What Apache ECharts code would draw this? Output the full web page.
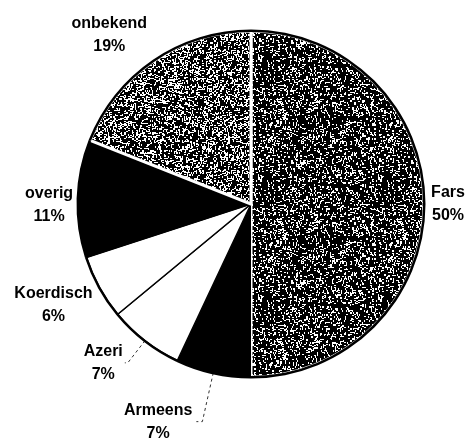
<!DOCTYPE html>
<html><head><meta charset="utf-8">
<script src="https://cdn.jsdelivr.net/npm/echarts@6/dist/echarts.min.js"></script>
<style>html,body{margin:0;padding:0;background:#fff}#c{width:469px;height:439px}</style>
</head><body><div id="c"></div>
<script>
// ---- data ----
const categories = ['Fars', 'Armeens', 'Azeri', 'Koerdisch', 'overig', 'onbekend'];
const values = [50, 7, 7, 6, 11, 19];

// ---- styles (per slice, same order) ----
const CX = 251, CY = 204, R = 173;
const lineLen = [9, 50, 28, 37, 6, 31];
const lineLen2 = [10, 6, 3, 8.5, 18, 22];
const labelDist = [5, 4, 2, 5, 5, 5];
const showLine = [false, true, true, false, false, false];
const centerLabel = [true, false, false, true, true, true];
const labelPadTop = [0, 0, 0, 0, 14, 0];
const borderColors = ['#fff', '#000', '#000', '#000', '#000', '#fff'];
const borderWidths = [3, 0, 1.5, 1.5, 1, 3];

function hash(x, y, seed) {
  let h = (Math.imul(x, 374761393) + Math.imul(y, 668265263) + Math.imul(seed, 1442695041)) | 0;
  h = Math.imul(h ^ (h >>> 13), 1274126177); h ^= h >>> 16;
  return (h >>> 0) / 4294967296;
}
function texture(density, seed) {
  const n = 120;
  const c = document.createElement('canvas'); c.width = c.height = n;
  const ctx = c.getContext('2d');
  ctx.fillStyle = '#000'; ctx.fillRect(0, 0, n, n);
  ctx.fillStyle = '#fff';
  for (let y = 0; y < n; y++) for (let x = 0; x < n; x++) {
    const horiz = hash(x >> 1, y, seed) < density * 0.55;
    const vert = hash(x, y >> 1, seed + 5) < density * 0.55;
    if (horiz || vert) ctx.fillRect(x, y, 1, 1);
  }
  return { image: c, repeat: 'repeat' };
}
const fills = [texture(0.24, 7), '#000', '#fff', '#fff', '#000', texture(0.36, 13)];

const font = { fontFamily: 'Liberation Sans', fontSize: 16, fontWeight: 'bold', color: '#000' };

const chart = echarts.init(document.getElementById('c'), null, { renderer: 'canvas' });
chart.setOption({
  animation: false,
  backgroundColor: '#fff',
  series: [
    {
      type: 'pie',
      center: [CX, CY],
      radius: R,
      startAngle: 90,
      clockwise: true,
      avoidLabelOverlap: false,
      silent: true,
      label: {
        show: true,
        position: 'outside',
        formatter: p => '{c|' + p.name + '}\n{c|' + p.value + '%}',
        ...font,
        rich: { c: { ...font, align: 'center', lineHeight: 23 } }
      },
      labelLine: { smooth: false, lineStyle: { color: '#333', width: 1, type: [3, 3] } },
      labelLayout: p => (centerLabel[p.dataIndex] ? { align: 'center' } : {}),
      data: categories.map((name, i) => ({
        name, value: values[i],
        itemStyle: { color: fills[i], borderColor: borderColors[i], borderWidth: borderWidths[i] },
        label: { distanceToLabelLine: labelDist[i], padding: [labelPadTop[i], 0, 0, 0] },
        labelLine: { show: showLine[i], length: lineLen[i], length2: lineLen2[i] }
      }))
    },
    {
      type: 'pie',
      center: [CX, CY],
      radius: [R - 1, R + 1.5],
      startAngle: 90,
      clockwise: true,
      silent: true,
      label: { show: false },
      labelLine: { show: false },
      itemStyle: { color: '#000', borderWidth: 0 },
      data: categories.map((name, i) => ({ name, value: values[i] }))
    }
  ]
});
</script>
</body></html>
